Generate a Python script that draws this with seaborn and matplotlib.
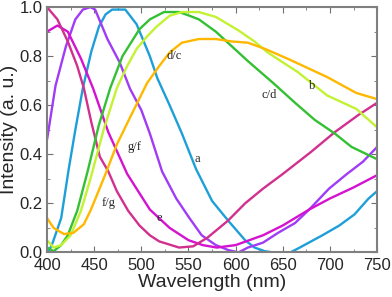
import seaborn as sns
import matplotlib.pyplot as plt
from matplotlib.ticker import MultipleLocator

# curve a (blue)
a_x = [400, 402, 406, 415, 423, 430, 438, 447, 455, 462, 469, 483, 495, 509, 517, 530, 543, 558, 575, 592, 610, 620, 631, 640, 658, 668, 692, 710, 726, 741, 750]
a_y = [0.02, 0.005, 0.04, 0.14, 0.34, 0.5, 0.67, 0.82, 0.92, 0.97, 0.99, 0.99, 0.93, 0.80, 0.71, 0.6, 0.485, 0.34, 0.21, 0.13, 0.05, 0.02, 0.005, 0.0, 0.0, 0.02, 0.07, 0.11, 0.155, 0.22, 0.25]
# purple (g/f)
p_x = [400, 409, 420, 430, 438, 446, 451, 464, 477, 488, 500, 509, 522, 537, 551, 564, 579, 592, 603, 613, 629, 645, 663, 678, 699, 718, 735, 750]
p_y = [0.46, 0.68, 0.84, 0.95, 0.99, 1.0, 0.99, 0.87, 0.775, 0.667, 0.58, 0.485, 0.33, 0.22, 0.14, 0.07, 0.03, 0.01, 0.0, 0.02, 0.04, 0.08, 0.12, 0.175, 0.26, 0.32, 0.37, 0.43]
# magenta (e)
m_x = [400, 411, 422, 436, 449, 465, 485, 509, 530, 550, 565, 580, 600, 629, 650, 678, 700, 725, 750]
m_y = [0.90, 0.925, 0.90, 0.79, 0.667, 0.49, 0.32, 0.175, 0.10, 0.05, 0.03, 0.02, 0.03, 0.07, 0.11, 0.175, 0.22, 0.265, 0.315]
# crimson (f/g)
r_x = [400, 411, 422, 432, 439, 447, 456, 465, 474, 486, 498, 509, 519, 540, 555, 570, 592, 610, 629, 650, 680, 705, 730, 750]
r_y = [1.0, 0.95, 0.86, 0.76, 0.67, 0.53, 0.39, 0.33, 0.25, 0.17, 0.11, 0.07, 0.045, 0.02, 0.025, 0.06, 0.13, 0.2, 0.26, 0.32, 0.41, 0.49, 0.56, 0.61]
# green (c/d)
g_x = [400, 407, 415, 422, 432, 443, 455, 467, 480, 498, 509, 524, 540, 551, 561, 579, 596, 613, 631, 640, 663, 684, 705, 723, 750]
g_y = [0.02, 0.005, 0.03, 0.07, 0.17, 0.33, 0.52, 0.67, 0.80, 0.91, 0.95, 0.98, 0.98, 0.965, 0.95, 0.90, 0.84, 0.78, 0.72, 0.69, 0.61, 0.54, 0.485, 0.43, 0.38]
# light green (b)
l_x = [400, 407, 415, 425, 436, 446, 460, 474, 485, 495, 506, 516, 530, 543, 561, 579, 603, 620, 634, 666, 697, 728, 750]
l_y = [0.05, 0.02, 0.03, 0.07, 0.17, 0.3, 0.5, 0.67, 0.76, 0.83, 0.88, 0.92, 0.965, 0.98, 0.98, 0.96, 0.905, 0.86, 0.815, 0.735, 0.64, 0.585, 0.51]
# orange (d/c)
o_x = [400, 407, 418, 428, 439, 446, 453, 462, 474, 488, 506, 519, 530, 543, 561, 579, 596, 613, 631, 655, 697, 728, 750]
o_y = [0.14, 0.10, 0.075, 0.08, 0.115, 0.17, 0.235, 0.32, 0.44, 0.55, 0.69, 0.76, 0.815, 0.855, 0.87, 0.87, 0.86, 0.855, 0.83, 0.79, 0.715, 0.65, 0.625]

labels = ["d/c", "b", "c/d", "a", "g/f", "f/g", "e"]
label_x = [535, 681, 636, 559, 493, 465, 519]
label_y = [0.80, 0.68, 0.64, 0.38, 0.43, 0.20, 0.14]

sns.set_style("ticks")
plt.rcParams['font.family'] = ['Liberation Sans', 'DejaVu Sans']

fig, ax = plt.subplots(figsize=(3.92, 2.97), dpi=100)
fig.subplots_adjust(left=0.12, right=0.962, top=0.976, bottom=0.15)

series = [(a_x, a_y, "#1E9FD8"), (p_x, p_y, "#A03CF5"), (m_x, m_y, "#D412D0"),
          (r_x, r_y, "#D1308F"), (g_x, g_y, "#33C033"), (l_x, l_y, "#C2F232"),
          (o_x, o_y, "#FFB800")]
for xs, ys, c in series:
    sns.lineplot(x=xs, y=ys, color=c, linewidth=1.7, ax=ax, sort=False)

for t, x, y in zip(labels, label_x, label_y):
    ax.text(x, y, t, family="Liberation Serif", fontsize=9, ha="center", va="center")

ax.set_xlim(400, 750)
ax.set_ylim(0, 1.0)
ax.xaxis.set_major_locator(MultipleLocator(50))
ax.xaxis.set_minor_locator(MultipleLocator(25))
ax.yaxis.set_major_locator(MultipleLocator(0.2))
ax.yaxis.set_minor_locator(MultipleLocator(0.1))
ax.tick_params(which="both", direction="in", top=True, right=True, color="#707070", labelsize=12)
ax.tick_params(axis="x", pad=4)
ax.tick_params(axis="y", pad=3)
ax.tick_params(which="major", length=4)
ax.tick_params(which="minor", length=2.5)
for s in ax.spines.values():
    s.set_color("#808080")
    s.set_linewidth(1.5)
ax.set_xlabel("Wavelength (nm)", fontsize=14, labelpad=0.5)
ax.set_ylabel("Intensity (a. u.)", fontsize=14, labelpad=1)

plt.savefig("out.png", dpi=100)
